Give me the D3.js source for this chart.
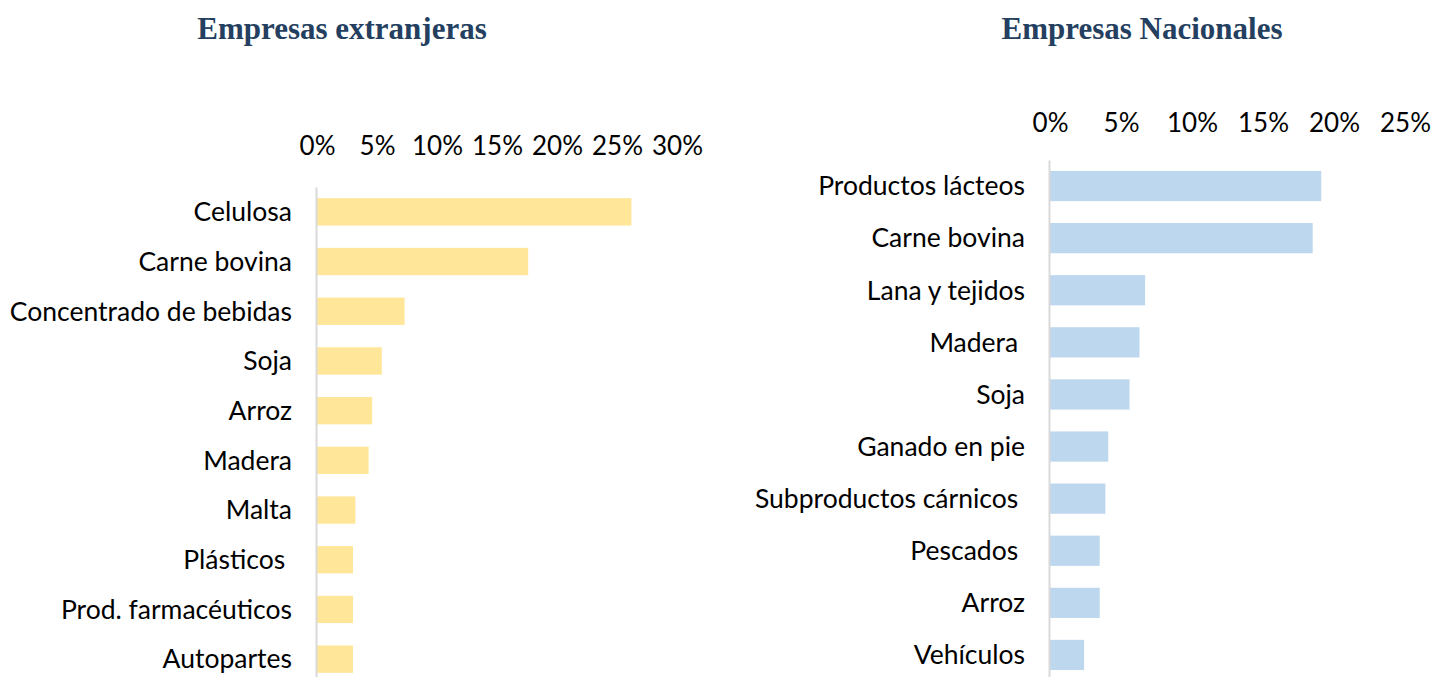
<!DOCTYPE html>
<html>
<head>
<meta charset="utf-8">
<script src="https://cdn.jsdelivr.net/npm/d3@7"></script>
<style>
  body { margin: 0; background: #fff; }
  svg text { font-family: Lato, "Open Sans", sans-serif; fill: #000; white-space: pre; }
  .title { font-family: "Liberation Serif", serif; font-weight: bold; fill: #243f60; }
</style>
</head>
<body>
<svg id="chart" width="1434" height="677"></svg>
<script>
// Empresas extranjeras
const foreignCats = ["Celulosa", "Carne bovina", "Concentrado de bebidas", "Soja", "Arroz",
  "Madera", "Malta", "Plásticos ", "Prod. farmacéuticos", "Autopartes"];
const foreignVals = [26.2, 17.6, 7.3, 5.4, 4.6, 4.3, 3.2, 3.0, 3.0, 3.0];
const foreignTicks = [0, 5, 10, 15, 20, 25, 30];

// Empresas Nacionales
const nationalCats = ["Productos lácteos", "Carne bovina", "Lana y tejidos", "Madera ", "Soja",
  "Ganado en pie", "Subproductos cárnicos ", "Pescados ", "Arroz", "Vehículos"];
const nationalVals = [19.1, 18.5, 6.7, 6.3, 5.6, 4.1, 3.9, 3.5, 3.5, 2.4];
const nationalTicks = [0, 5, 10, 15, 20, 25];

const svg = d3.select("#chart");

const drawPanel = (opts) => {
  const x = d3.scaleLinear().domain([0, opts.max]).range(opts.xRange);
  const y = d3.scaleBand().domain(opts.cats).range(opts.yRange).paddingInner(opts.pad).paddingOuter(opts.pad / 2);

  svg.append("text")
    .attr("class", "title")
    .attr("x", opts.titleX)
    .attr("y", 39)
    .attr("text-anchor", "middle")
    .style("font-size", "31px")
    .text(opts.title);

  const data = opts.cats.map((c, i) => ({ cat: c, val: opts.vals[i] }));

  svg.append("g")
    .selectAll("rect")
    .data(data)
    .enter()
    .append("rect")
    .attr("x", x(0))
    .attr("y", (d) => y(d.cat))
    .attr("width", (d) => x(d.val) - x(0))
    .attr("height", y.bandwidth())
    .attr("fill", opts.color);

  const xAxis = d3.axisTop(x)
    .tickValues(opts.ticks)
    .tickFormat((d) => d + "%")
    .tickSize(0)
    .tickPadding(0);

  const gx = svg.append("g")
    .attr("transform", `translate(0, ${opts.tickY})`)
    .call(xAxis);
  gx.select(".domain").remove();
  gx.selectAll("text").style("font-size", "26px").attr("dy", "0");

  const yAxis = d3.axisLeft(y).tickSize(0).tickSizeOuter(0).tickPadding(opts.labelPad);
  const gy = svg.append("g")
    .attr("transform", `translate(${x(0) - 1}, 0)`)
    .call(yAxis);
  gy.select(".domain").attr("stroke", "#d9d9d9").attr("stroke-width", 2);
  gy.selectAll("text").style("font-size", "26.5px").attr("dy", "0.35em");
};

drawPanel({
  title: "Empresas extranjeras", titleX: 342,
  cats: foreignCats, vals: foreignVals, ticks: foreignTicks, max: 30,
  xRange: [317, 677], yRange: [187, 684], pad: 0.45,
  tickY: 155, labelPad: 24, color: "#ffe699"
});

drawPanel({
  title: "Empresas Nacionales", titleX: 1142,
  cats: nationalCats, vals: nationalVals, ticks: nationalTicks, max: 25,
  xRange: [1050, 1405], yRange: [160, 681], pad: 0.42,
  tickY: 132, labelPad: 24, color: "#bdd7ee"
});
</script>
</body>
</html>
